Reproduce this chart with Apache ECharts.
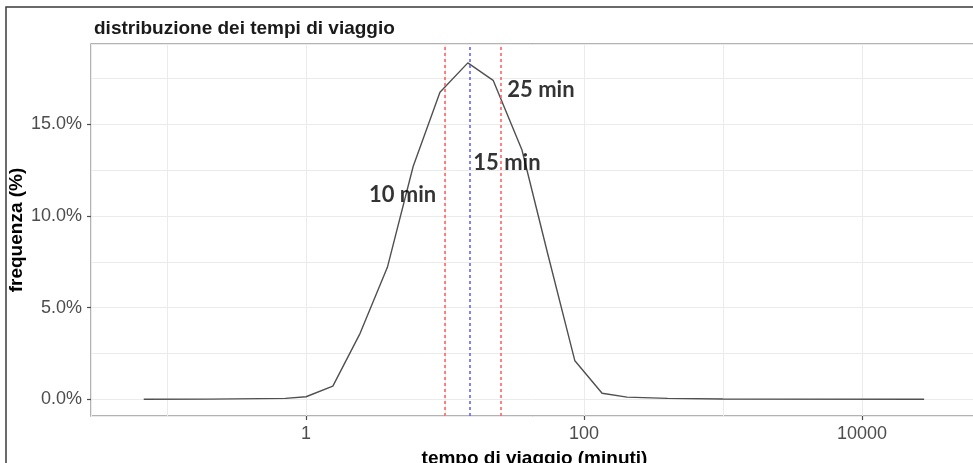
<!DOCTYPE html>
<html>
<head>
<meta charset="utf-8">
<script src="https://cdn.jsdelivr.net/npm/echarts@6/dist/echarts.min.js"></script>
<style>
html,body{margin:0;padding:0;background:#fff;}
#chart{width:973px;height:463px;}
</style>
</head>
<body>
<div id="chart"></div>
<script>
// travel time (minutes) and frequency (%)
var travelTime = [0.068, 0.2, 0.71, 1.0, 1.56, 2.45, 3.85, 5.9, 9.2, 14.6, 22.2, 35.8, 55, 86, 135, 204, 400, 1000, 28000];
var frequency  = [0.0, 0.01, 0.05, 0.14, 0.72, 3.6, 7.2, 12.7, 16.75, 18.35, 17.4, 13.6, 7.9, 2.1, 0.33, 0.12, 0.05, 0.02, 0.0];

// reference lines (minutes)
var refLines = [10, 15, 25];
var refColors = ['#ff6464', '#6464ff', '#ff6464'];

// annotations
var annotX = [4.95, 27.9, 49];
var annotY = [11.15, 12.9, 16.87];
var annotText = ['10 min', '15 min', '25 min'];

var xTickLabels = [1, 100, 10000];
var yTickLabels = [0, 5, 10, 15];

var xMin = Math.pow(10, -1.547), xMax = Math.pow(10, 4.835);
var yMin = -0.91, yMax = 19.38;

var chart = echarts.init(document.getElementById('chart'));

var lineData = travelTime.map(function (t, i) { return [t, frequency[i]]; });
var annotData = annotX.map(function (x, i) { return [x, annotY[i], annotText[i]]; });

function isLabelX(v) {
  for (var i = 0; i < xTickLabels.length; i++) {
    if (Math.abs(v - xTickLabels[i]) / xTickLabels[i] < 1e-6) return true;
  }
  return false;
}

chart.setOption({
  backgroundColor: '#ffffff',
  animation: false,
  textStyle: { fontFamily: 'Liberation Sans, Arial, sans-serif' },
  title: {
    text: 'distribuzione dei tempi di viaggio',
    left: 89, top: 14,
    textStyle: { fontSize: 19, fontWeight: 'bold', color: '#1a1a1a', fontFamily: 'Liberation Sans, Arial, sans-serif' }
  },
  graphic: [{
    type: 'rect', silent: true, z: 100,
    shape: { x: 6, y: 7, width: 1000, height: 500 },
    style: { fill: 'none', stroke: '#3a3a3a', lineWidth: 1.5 }
  }],
  grid: {
    left: 91, top: 44, right: -5, bottom: 47,
    containLabel: false, outerBoundsMode: 'none',
    show: true, borderColor: '#9a9a9a', borderWidth: 1.5, backgroundColor: '#fff'
  },
  xAxis: [{
    type: 'log', logBase: 10, min: xMin, max: xMax,
    name: 'tempo di viaggio (minuti)', nameLocation: 'middle', nameGap: 33, nameMoveOverlap: false,
    nameTextStyle: { fontSize: 19, fontWeight: 'bold', color: '#000', verticalAlign: 'top' },
    axisLine: { show: false, onZero: false },
    axisTick: { show: false },
    axisLabel: {
      fontSize: 18, color: '#4d4d4d', margin: 9,
      showMinLabel: true, showMaxLabel: true,
      formatter: function (v) { return isLabelX(v) ? String(Math.round(v)) : ''; }
    },
    splitLine: { show: true, lineStyle: { color: '#ebebeb', width: 1 } }
  }, {
    type: 'value', min: -1.547, max: 4.835, position: 'bottom', gridIndex: 0,
    axisLine: { show: false, onZero: false },
    axisLabel: { show: false },
    splitLine: { show: false },
    axisTick: { show: true, length: 4, customValues: [0, 2, 4], lineStyle: { color: '#4d4d4d', width: 1.2 } }
  }],
  yAxis: [{
    type: 'value', min: yMin, max: yMax,
    name: 'frequenza (%)', nameLocation: 'middle', nameGap: 65, nameRotate: 90, nameMoveOverlap: false,
    nameTextStyle: { fontSize: 19, fontWeight: 'bold', color: '#000' },
    axisLine: { show: false, onZero: false },
    axisTick: { show: false },
    axisLabel: {
      fontSize: 18, color: '#4d4d4d', margin: 9,
      formatter: function (v) {
        return yTickLabels.indexOf(Math.round(v * 1000) / 1000) >= 0 ? v.toFixed(1) + '%' : '';
      }
    },
    splitLine: { show: true, lineStyle: { color: '#ebebeb', width: 1 } },
    minorTick: { show: false, splitNumber: 2 },
    minorSplitLine: { show: true, lineStyle: { color: '#ebebeb', width: 1 } }
  }, {
    type: 'value', min: yMin, max: yMax, position: 'left', gridIndex: 0,
    axisLine: { show: false, onZero: false },
    axisLabel: { show: false },
    splitLine: { show: false },
    axisTick: { show: true, length: 4, customValues: yTickLabels, lineStyle: { color: '#4d4d4d', width: 1.2 } }
  }],
  series: [{
    type: 'line',
    xAxisIndex: 0, yAxisIndex: 0,
    data: lineData,
    showSymbol: false, symbol: 'none',
    lineStyle: { color: '#505050', width: 1.4 },
    z: 3,
    markLine: {
      silent: true, symbol: 'none',
      label: { show: false },
      data: refLines.map(function (v, i) {
        return { xAxis: v, lineStyle: { color: refColors[i], type: [3, 3], width: 1.6 } };
      })
    }
  }, {
    type: 'scatter',
    xAxisIndex: 0, yAxisIndex: 0,
    data: annotData,
    symbolSize: 0,
    z: 5,
    label: {
      show: true, position: 'inside',
      formatter: function (p) { return p.value[2]; },
      fontSize: 22, fontWeight: 'bold', color: '#000',
      fontFamily: 'Lato, Open Sans, sans-serif'
    }
  }]
});
</script>
</body>
</html>
